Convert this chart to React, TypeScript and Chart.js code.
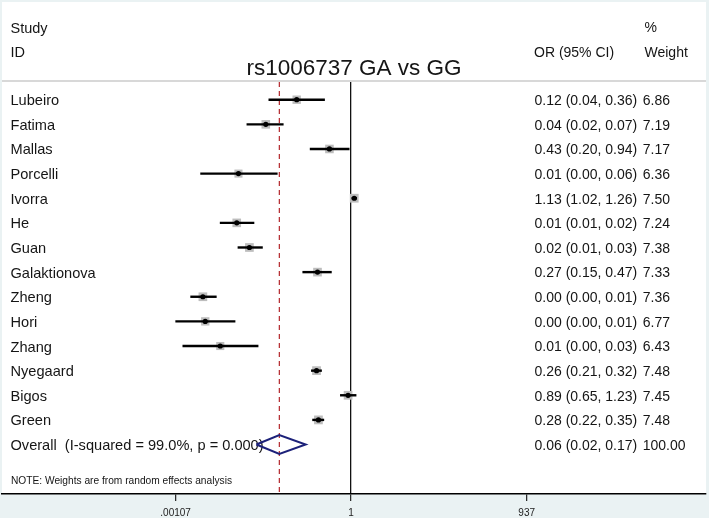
import React, { useEffect, useRef } from 'react';
import { Chart, registerables } from 'chart.js';

Chart.register(...registerables);

// ---------- data ----------
const studies = ['Lubeiro', 'Fatima', 'Mallas', 'Porcelli', 'Ivorra', 'He', 'Guan', 'Galaktionova', 'Zheng', 'Hori', 'Zhang', 'Nyegaard', 'Bigos', 'Green'];
const orEst = [0.12, 0.036, 0.43, 0.0124, 1.13, 0.0116, 0.019, 0.27, 0.0031, 0.0034, 0.0061, 0.26, 0.89, 0.28];
const ciLow = [0.04, 0.017, 0.2, 0.0028, 1.02, 0.006, 0.012, 0.15, 0.0019, 0.00106, 0.0014, 0.21, 0.65, 0.22];
const ciHigh = [0.36, 0.072, 0.94, 0.057, 1.26, 0.023, 0.032, 0.47, 0.0053, 0.011, 0.027, 0.32, 1.23, 0.35];
const weights = [6.86, 7.19, 7.17, 6.36, 7.5, 7.24, 7.38, 7.33, 7.36, 6.77, 6.43, 7.48, 7.45, 7.48];

const overallLabel = 'Overall  (I-squared = 99.0%, p = 0.000)';
const overallEst = 0.061;
const overallLow = 0.0249;
const overallHigh = 0.17;
const overallWeight = 100;

const tickValues = [0.00107, 1, 937];
const tickLabels = ['.00107', '1', '937'];

const titleText = 'rs1006737 GA vs GG';
const noteText = 'NOTE: Weights are from random effects analysis';

// ---------- layout constants ----------
const W = 709;
const H = 518;
const X_MIN = 1.233e-6;
const X_MAX = 1.017e6;
const Y_MIN = -0.7187;
const Y_MAX = 16.008;
const FONT = '"Liberation Sans", Arial, Helvetica, sans-serif';
const TEXT_COLOR = '#151515';

const fmt = (v: number) => v.toFixed(2);

const backgroundPlugin = {
  id: 'bgPanel',
  beforeDraw(chart: any) {
    const ctx = chart.ctx;
    ctx.save();
    ctx.fillStyle = '#eaf2f3';
    ctx.fillRect(0, 0, W, H);
    ctx.fillStyle = '#ffffff';
    ctx.fillRect(2, 2, 704, 492);
    ctx.fillStyle = '#d8d8d8';
    ctx.fillRect(2, 80, 704, 2);
    ctx.restore();
  },
};

const textPlugin = {
  id: 'forestText',
  beforeDatasetsDraw(chart: any) {
    const ctx = chart.ctx;
    const y = chart.scales.y;
    ctx.save();
    ctx.fillStyle = TEXT_COLOR;
    ctx.textBaseline = 'middle';
    ctx.textAlign = 'left';
    // headers
    ctx.font = `14.5px ${FONT}`;
    ctx.fillText('Study', 10.5, 29);
    ctx.fillText('ID', 10.5, 53);
    ctx.font = `14px ${FONT}`;
    ctx.fillText('OR (95% CI)', 534, 53);
    ctx.fillText('%', 644.5, 28);
    ctx.fillText('Weight', 644.5, 53);

    const rows = studies.map((s, i) => ({
      label: s,
      ci: `${fmt(orEst[i])} (${fmt(ciLow[i])}, ${fmt(ciHigh[i])})`,
      w: fmt(weights[i]),
    }));
    rows.push({
      label: overallLabel,
      ci: `${fmt(overallEst)} (${fmt(overallLow)}, ${fmt(overallHigh)})`,
      w: fmt(overallWeight),
    });
    rows.forEach((r, i) => {
      const py = y.getPixelForValue(i) + 1.5;
      ctx.font = `14.6px ${FONT}`;
      ctx.fillText(r.label, 10.5, py);
      ctx.font = `14px ${FONT}`;
      ctx.fillText(r.ci, 534.5, py);
      ctx.fillText(r.w, 642.7, py);
    });
    ctx.font = `10.2px ${FONT}`;
    ctx.fillText(noteText, 11, 481);
    ctx.restore();
  },
};

export default function App() {
  const ref = useRef<HTMLCanvasElement | null>(null);

  useEffect(() => {
    document.body.style.margin = '0';
    const canvas = ref.current;
    if (!canvas) return;

    const overallRow = studies.length;
    const diamondHalf = 0.38;

    const datasets: any[] = [];
    // point estimates (drawn on top)
    datasets.push({
      data: studies.map((_, i) => ({ x: orEst[i], y: i })),
      pointStyle: 'circle',
      pointRadius: 2.6,
      pointBackgroundColor: '#000',
      pointBorderWidth: 0,
      showLine: false,
    });
    // overall diamond
    datasets.push({
      data: [
        { x: overallLow, y: overallRow },
        { x: overallEst, y: overallRow - diamondHalf },
        { x: overallHigh, y: overallRow },
        { x: overallEst, y: overallRow + diamondHalf },
        { x: overallLow, y: overallRow },
      ],
      showLine: true,
      borderColor: '#1c2179',
      borderWidth: 2,
      pointRadius: 0,
      tension: 0,
      borderJoinStyle: 'miter',
    });
    // CI lines
    studies.forEach((_, i) => {
      datasets.push({
        data: [
          { x: ciLow[i], y: i },
          { x: ciHigh[i], y: i },
        ],
        showLine: true,
        borderColor: '#000',
        borderWidth: 2.4,
        pointRadius: 0,
      });
    });
    // weight boxes
    datasets.push({
      data: studies.map((_, i) => ({ x: orEst[i], y: i })),
      pointStyle: 'rect',
      pointRadius: weights.map((w) => (3.2 * Math.sqrt(w)) / Math.SQRT2),
      pointBackgroundColor: '#bdbdbd',
      pointBorderWidth: 0,
      showLine: false,
    });
    // overall effect dashed line
    datasets.push({
      data: [
        { x: overallEst, y: Y_MIN },
        { x: overallEst, y: Y_MAX },
      ],
      showLine: true,
      borderColor: '#b3262b',
      borderWidth: 1.2,
      borderDash: [5, 4],
      pointRadius: 0,
    });

    const chart = new Chart(canvas, {
      type: 'scatter',
      data: { datasets },
      plugins: [backgroundPlugin, textPlugin],
      options: {
        animation: false,
        responsive: false,
        events: [],
        layout: { autoPadding: false, padding: { left: 2, right: 3, top: 0, bottom: 0 } },
        plugins: {
          legend: { display: false },
          tooltip: { enabled: false },
          title: {
            display: true,
            text: titleText,
            color: TEXT_COLOR,
            font: { family: FONT, size: 22.5, weight: 'normal', lineHeight: 1.2 },
            padding: { top: 55, bottom: 0 },
          },
        },
        scales: {
          x: {
            type: 'logarithmic',
            position: 'bottom',
            min: X_MIN,
            max: X_MAX,
            bounds: 'data',
            afterBuildTicks: (scale: any) => {
              scale.ticks = tickValues.map((v) => ({ value: v }));
            },
            afterFit: (scale: any) => {
              scale.height = 24;
            },
            border: { display: true, color: '#000', width: 1.5 },
            grid: {
              drawOnChartArea: true,
              color: (c: any) => (c.tick && c.tick.value === 1 ? '#111' : 'rgba(0,0,0,0)'),
              lineWidth: 1.3,
              tickColor: '#222',
              tickWidth: 1.2,
              tickLength: 7,
            },
            ticks: {
              autoSkip: false,
              maxRotation: 0,
              padding: 6,
              color: '#222',
              font: { family: FONT, size: 10 },
              callback: (v: any) => {
                const k = tickValues.indexOf(Number(v));
                return k >= 0 ? tickLabels[k] : '';
              },
            },
          },
          y: {
            type: 'linear',
            display: false,
            reverse: true,
            min: Y_MIN,
            max: Y_MAX,
          },
        },
      },
    });

    return () => chart.destroy();
  }, []);

  return (
    <div style={{ width: W, height: H }}>
      <canvas ref={ref} width={W} height={H} style={{ display: 'block' }} />
    </div>
  );
}
